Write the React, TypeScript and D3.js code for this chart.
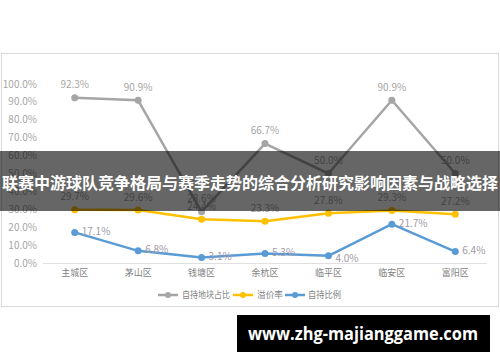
import React from "react";
import * as d3 from "d3";

const categories = ["主城区", "茅山区", "钱塘区", "余杭区", "临平区", "临安区", "富阳区"];
const selfLandShare = [92.3, 90.9, 28.6, 66.7, 50.0, 90.9, 50.0];
const premiumRate = [29.7, 29.6, 24.4, 23.3, 27.8, 29.3, 27.2];
const selfHoldRatio = [17.1, 6.8, 3.1, 5.3, 4.0, 21.7, 6.4];
const yTicks = [0, 10, 20, 30, 40, 50, 60, 70, 80, 90, 100];
const seriesNames = ["自持地块占比", "溢价率", "自持比例"];
const title = "联赛中游球队竞争格局与赛季走势的综合分析研究影响因素与战略选择";
const site = "www.zhg-majianggame.com";

const W = 500;
const H = 362;
const colors = ["#a5a5a5", "#ffc000", "#5b9bd5"];
const font = "'Microsoft YaHei', 'Noto Sans CJK SC', 'Noto Sans', sans-serif";

export default function App() {
  const x = d3.scaleBand<string>().domain(categories).range([43, 487]);
  const y = d3.scaleLinear().domain([0, 100]).range([263, 84]);
  const cx = (c: string) => (x(c) as number) + x.bandwidth() / 2;
  const line = d3
    .line<number>()
    .x((_, i) => cx(categories[i]))
    .y((v) => y(v));
  const series = [selfLandShare, premiumRate, selfHoldRatio];

  const legendItems = [
    { x: 158, tx: 182, w: 48 },
    { x: 233, tx: 257, w: 26 },
    { x: 285, tx: 308, w: 33 },
  ];

  return (
    <svg
      width={W}
      height={H}
      style={{ position: "absolute", left: 0, top: 0 }}
      fontFamily={font}
    >
      <rect x={0} y={0} width={W} height={H} fill="#fff" />
      <rect x={1.5} y={53.5} width={497} height={253} fill="#fff" stroke="#d9d9d9" />
      {yTicks.map((t) => (
        <text
          key={t}
          x={37}
          y={y(t)}
          dy="0.35em"
          textAnchor="end"
          fontSize={10}
          fill="#a6a6a6"
        >
          {t.toFixed(1)}%
        </text>
      ))}
      <line x1={43} x2={487} y1={y(0) + 0.5} y2={y(0) + 0.5} stroke="#e0e0e0" />
      {categories.map((c) => (
        <text
          key={c}
          x={cx(c)}
          y={273}
          dy="0.35em"
          textAnchor="middle"
          fontSize={9}
          fill="#7f7f7f"
        >
          {c}
        </text>
      ))}
      {series.map((s, si) => (
        <g key={si}>
          <path d={line(s) || ""} fill="none" stroke={colors[si]} strokeWidth={2.5} strokeLinejoin="round" />
          {s.map((v, i) => (
            <circle key={i} cx={cx(categories[i])} cy={y(v)} r={3.5} fill={colors[si]} />
          ))}
        </g>
      ))}
      {selfLandShare.map((v, i) => (
        <text
          key={"g" + i}
          x={cx(categories[i])}
          y={y(v) - 13}
          dy="0.35em"
          textAnchor="middle"
          fontSize={10}
          fill="#a6a6a6"
        >
          {v.toFixed(1)}%
        </text>
      ))}
      {premiumRate.map((v, i) => (
        <text
          key={"y" + i}
          x={cx(categories[i])}
          y={y(v) - 13}
          dy="0.35em"
          textAnchor="middle"
          fontSize={10}
          fill="#a6a6a6"
        >
          {v.toFixed(1)}%
        </text>
      ))}
      {selfHoldRatio.map((v, i) => (
        <text
          key={"b" + i}
          x={cx(categories[i]) + 7}
          y={y(v) + (i === 4 ? 3 : -1)}
          dy="0.35em"
          textAnchor="start"
          fontSize={10}
          fill="#a09aa6"
        >
          {v.toFixed(1)}%
        </text>
      ))}
      {legendItems.map((l, i) => (
        <g key={i}>
          <line x1={l.x} x2={l.x + 20} y1={295} y2={295} stroke={colors[i]} strokeWidth={2.5} />
          <circle cx={l.x + 10} cy={295} r={3} fill={colors[i]} />
          <text
            x={l.tx}
            y={295}
            dy="0.35em"
            fontSize={9}
            fill="#7f7f7f"
            textLength={l.w}
            lengthAdjust="spacingAndGlyphs"
          >
            {seriesNames[i]}
          </text>
        </g>
      ))}
      <rect x={0} y={151} width={W} height={60} fill="rgba(0,0,0,0.6)" />
      <text
        x={W / 2}
        y={183}
        dy="0.35em"
        textAnchor="middle"
        fontSize={16}
        fontWeight="bold"
        fill="#fff"
        textLength={496}
        lengthAdjust="spacingAndGlyphs"
      >
        {title}
      </text>
      <rect x={237} y={315} width={253} height={37} fill="#000" />
      <text
        x={363}
        y={334}
        dy="0.35em"
        textAnchor="middle"
        fontSize={17}
        fontWeight="bold"
        fill="#fff"
        fontFamily="'Open Sans', 'DejaVu Sans', sans-serif"
        textLength={230}
        lengthAdjust="spacingAndGlyphs"
      >
        {site}
      </text>
    </svg>
  );
}
